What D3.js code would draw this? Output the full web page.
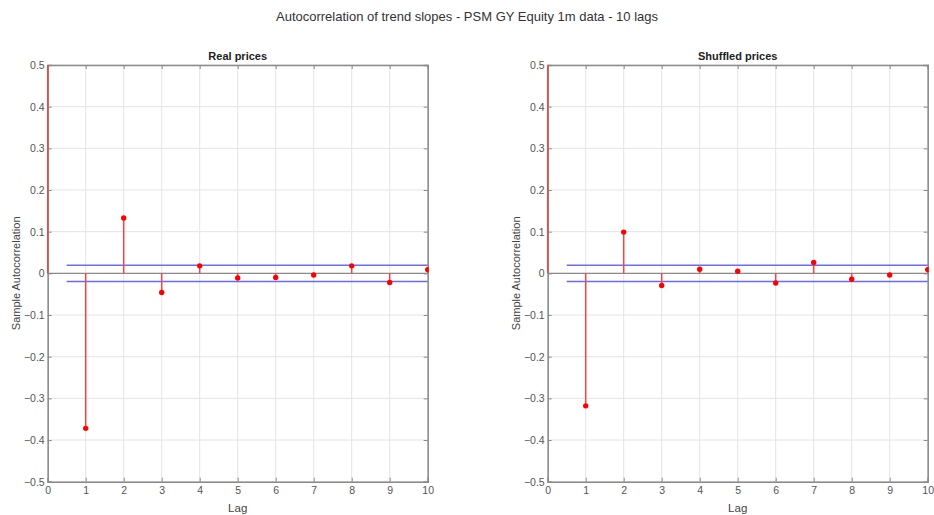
<!DOCTYPE html>
<meta charset="utf-8">
<style>
  body { margin: 0; background: #fff; }
  text { font-family: "Liberation Sans", Arial, sans-serif; }
  .axis path { stroke: #8a8a8a; stroke-width: 1.5px; }
  .axis line { stroke: #8a8a8a; }
  .axis text { fill: #555; font-size: 10.5px; }
  .grid line { stroke: #e4e4e4; stroke-width: 1px; }
</style>
<body>
<script src="https://d3js.org/d3.v7.min.js"></script>
<script>
// lags and sample autocorrelations
var lags = [0, 1, 2, 3, 4, 5, 6, 7, 8, 9, 10];
var realAcf = [1, -0.372, 0.133, -0.046, 0.018, -0.011, -0.010, -0.004, 0.018, -0.022, 0.009];
var shuffledAcf = [1, -0.318, 0.099, -0.029, 0.010, 0.005, -0.023, 0.026, -0.014, -0.004, 0.009];
var confBound = 0.0195;
var boundStart = 0.5;
var xTicks = [0, 1, 2, 3, 4, 5, 6, 7, 8, 9, 10];
var yTicks = [-0.5, -0.4, -0.3, -0.2, -0.1, 0, 0.1, 0.2, 0.3, 0.4, 0.5];
var panelTitles = ["Real prices", "Shuffled prices"];

var W = 934, H = 515;
var svg = d3.select("body").append("svg")
    .attr("width", W)
    .attr("height", H);

svg.append("text")
    .attr("x", 467).attr("y", 21)
    .attr("text-anchor", "middle")
    .style("font-size", "13px")
    .style("fill", "#333")
    .text("Autocorrelation of trend slopes - PSM GY Equity 1m data - 10 lags");

var pw = 380, ph = 416.7, plotTop = 65;
var lefts = [47.7, 547.7];
var series = [realAcf, shuffledAcf];

var x = d3.scaleLinear().domain([0, 10]).range([0, pw]);
var y = d3.scaleLinear().domain([-0.5, 0.5]).range([ph, 0]);
var fmt = function (d) { return d === 0 ? "0" : d3.format(".1f")(d); };

series.forEach(function (vals, i) {
  var g = svg.append("g")
      .attr("transform", "translate(" + lefts[i] + "," + plotTop + ")");

  g.append("clipPath").attr("id", "clip" + i)
    .append("rect").attr("x", -1).attr("y", 0).attr("width", pw + 2).attr("height", ph);

  // grid
  g.append("g").attr("class", "grid")
    .selectAll("line").data(xTicks).enter().append("line")
    .attr("x1", function (d) { return x(d); }).attr("x2", function (d) { return x(d); })
    .attr("y1", 0).attr("y2", ph);
  g.append("g").attr("class", "grid")
    .selectAll("line").data(yTicks).enter().append("line")
    .attr("x1", 0).attr("x2", pw)
    .attr("y1", function (d) { return y(d); }).attr("y2", function (d) { return y(d); });

  // baseline
  g.append("line")
    .attr("x1", x(0)).attr("x2", x(10))
    .attr("y1", y(0)).attr("y2", y(0))
    .style("stroke", "#8a8a8a").style("stroke-width", 1.3);

  // axes (MATLAB-style box, ticks inward)
  g.append("g").attr("class", "axis")
    .attr("transform", "translate(0," + ph + ")")
    .call(d3.axisBottom(x).tickValues(xTicks).tickSize(-4).tickPadding(5).tickFormat(d3.format("d")));
  g.append("g").attr("class", "axis")
    .call(d3.axisTop(x).tickValues(xTicks).tickSize(-4).tickFormat(""));
  g.append("g").attr("class", "axis")
    .call(d3.axisLeft(y).tickValues(yTicks).tickSize(-4).tickPadding(3).tickFormat(fmt));
  g.append("g").attr("class", "axis")
    .attr("transform", "translate(" + pw + ",0)")
    .call(d3.axisRight(y).tickValues(yTicks).tickSize(-4).tickFormat(""));

  // confidence bounds
  [confBound, -confBound].forEach(function (b) {
    g.append("line")
      .attr("x1", x(boundStart)).attr("x2", x(10))
      .attr("y1", y(b)).attr("y2", y(b))
      .style("stroke", "#6a6aff").style("stroke-width", 1.6);
  });

  var data = lags.map(function (l, j) { return { lag: l, v: vals[j] }; });
  var stems = g.append("g").attr("clip-path", "url(#clip" + i + ")");
  stems.selectAll("line").data(data).enter().append("line")
    .attr("x1", function (d) { return x(d.lag); }).attr("x2", function (d) { return x(d.lag); })
    .attr("y1", y(0)).attr("y2", function (d) { return y(d.v); })
    .style("stroke", "#ff4040").style("stroke-width", 1.5);
  stems.selectAll("circle").data(data).enter().append("circle")
    .attr("cx", function (d) { return x(d.lag); })
    .attr("cy", function (d) { return y(d.v); })
    .attr("r", 2.7)
    .style("fill", "#f00");

  // labels
  g.append("text")
    .attr("x", pw / 2).attr("y", -5)
    .attr("text-anchor", "middle")
    .style("font-size", "11px").style("font-weight", "bold").style("fill", "#222")
    .text(panelTitles[i]);
  g.append("text")
    .attr("x", pw / 2).attr("y", ph + 30)
    .attr("text-anchor", "middle")
    .style("font-size", "11.5px").style("fill", "#444")
    .text("Lag");
  g.append("text")
    .attr("transform", "translate(-28," + (ph / 2) + ") rotate(-90)")
    .attr("text-anchor", "middle")
    .style("font-size", "11px").style("fill", "#444")
    .text("Sample Autocorrelation");
});
</script>
</body>
